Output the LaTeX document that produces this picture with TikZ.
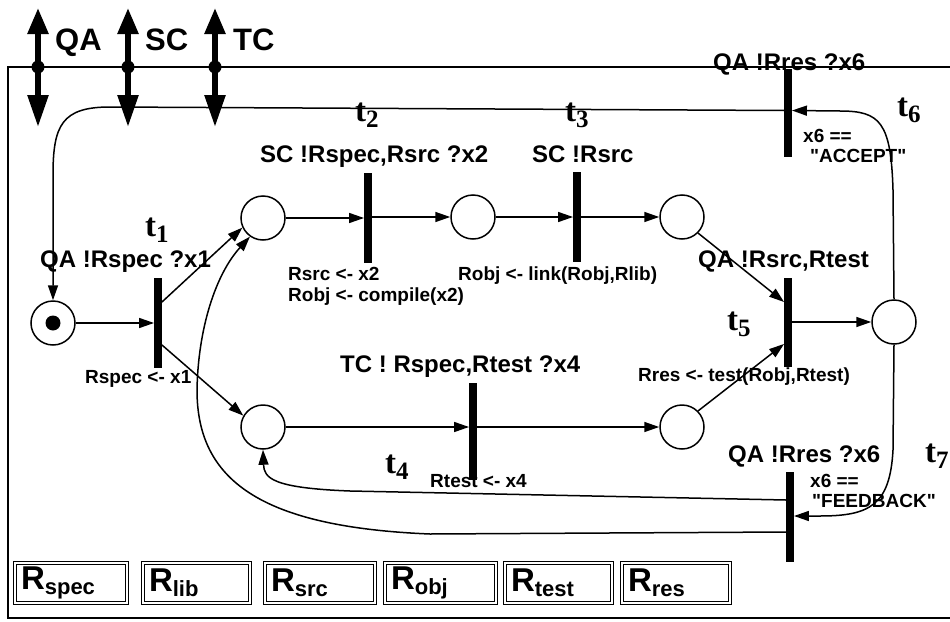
\documentclass[tikz,border=0pt]{standalone}
\usepackage{fontspec}
\setmainfont{Liberation Sans}[Ligatures=TeXOff]
\newfontfamily\serfont{Liberation Serif}
\usetikzlibrary{arrows.meta,calc}
\tikzset{
  place/.style={circle,draw,line width=1.5pt,minimum size=44pt,inner sep=0pt},
  trans/.style={rectangle,fill=black,minimum width=7.5pt,inner sep=0pt},
  arc/.style={line width=1.5pt,-{Triangle[length=15pt,width=10pt]}},
  biglab/.style={font=\bfseries\fontsize{24}{24}\selectfont,inner sep=0pt,anchor=base west},
  smalllab/.style={font=\bfseries\fontsize{19}{19}\selectfont,inner sep=0pt,anchor=base west},
  chanlab/.style={font=\bfseries\fontsize{31}{31}\selectfont,inner sep=0pt,anchor=base west},
  tlab/.style={inner sep=0pt,anchor=base west},
  chan/.style={line width=5.5pt,{Triangle[length=26pt,width=20pt]}-{Triangle[length=32pt,width=20pt]}},
  resbox/.style={draw,double,line width=1.4pt,double distance=1.6pt,minimum height=40pt,
    inner xsep=6pt,inner ysep=0pt,align=left},
}
\newcommand\tname[1]{{\serfont\bfseries\fontsize{33}{33}\selectfont t\raisebox{-6pt}{\fontsize{25}{25}\selectfont #1}}}
\newcommand\rname[1]{{\bfseries\fontsize{33}{33}\selectfont R\raisebox{-5pt}{\fontsize{22}{22}\selectfont #1}}}
\begin{document}
\begin{tikzpicture}[x=1pt,y=-1pt]
\useasboundingbox (0,0) rectangle (950,621);
\clip (0,0) rectangle (950,621);
\fill[white] (0,0) rectangle (950,621);

% frame
\draw[line width=2.5pt] (960,67) -- (8,67) -- (8,618) -- (960,618);

% channels
\coordinate (qa1) at (38,8);  \coordinate (qa2) at (38,127);
\coordinate (sc1) at (128,8); \coordinate (sc2) at (128,127);
\coordinate (tc1) at (215,8); \coordinate (tc2) at (215,127);
\draw[chan] (qa1) -- (qa2);
\draw[chan] (sc1) -- (sc2);
\draw[chan] (tc1) -- (tc2);
\fill (38,67) circle (6.5pt);
\fill (128,67) circle (6.5pt);
\fill (215,67) circle (6.5pt);
\node[chanlab] (lqa) at (55,50) {QA};
\node[chanlab] (lsc) at (145,50) {SC};
\node[chanlab] (ltc) at (233,50) {TC};

% places
\node[place] (p0) at (53,323) {};
\fill (p0) circle (7.5pt);
\node[place] (p1) at (263,218) {};
\node[place] (p2) at (473,217) {};
\node[place] (p3) at (682,217) {};
\node[place] (p4) at (263,427) {};
\node[place] (p5) at (682,427) {};
\node[place] (p6) at (894,322) {};

% transitions
\node[trans,minimum height=90pt] (t1) at (158,323) {};
\node[trans,minimum height=90pt] (t2) at (368,218) {};
\node[trans,minimum height=90pt] (t3) at (577,217) {};
\node[trans,minimum height=97pt] (t4) at (473,431) {};
\node[trans,minimum height=89pt] (t5) at (788,322) {};
\node[trans,minimum height=88pt] (t6) at (788,113) {};
\node[trans,minimum height=90pt] (t7) at (790,517) {};

% arcs
\draw[arc] (p0) -- (p0 -| t1.west);
\draw[arc] ($(t1.east)+(0,-21)$) -- (p1.205);
\draw[arc] ($(t1.east)+(0,22)$) -- (p4.150);
\draw[arc] (p1) -- (p1 -| t2.west);
\draw[arc] (t2.east |- p2) -- (p2);
\draw[arc] (p2) -- (p2 -| t3.west);
\draw[arc] (t3.east |- p3) -- (p3);
\draw[arc] (p4) -- (p4 -| t4.west);
\draw[arc] (t4.east |- p5) -- (p5);
\draw[arc] (p3.-45) -- ($(t5.west)+(0,-20)$);
\draw[arc] (p5.45) -- ($(t5.west)+(0,22)$);
\draw[arc] (t5.east |- p6) -- (p6);
\draw[arc] (p6.north) -- (893,190) .. controls (891,122) and (880,111) .. (840,111) -- ($(t6.east)+(0,-2.5)$);
\draw[arc] ($(t6.west)+(0,-2.5)$) -- (110,107) .. controls (62,107) and (53,125) .. (53,175) -- (p0.north);
\draw[arc] (p6.south) -- (893,450) .. controls (890,505) and (870,516) .. (820,516) -- ($(t7.east)+(0,-1)$);
\draw[arc] ($(t7.west)+(0,-17)$) -- (350,491) .. controls (272,488) and (264,478) .. (p4.south);
\draw[arc] ($(t7.west)+(0,15)$) -- (430,534) .. controls (260,527) and (197,480) .. (197,390)
   .. controls (198,330) and (215,275) .. (p1.235);

% transition labels
\node[tlab] (n1) at (145,236) {\tname{1}};
\node[tlab] (n2) at (355,121) {\tname{2}};
\node[tlab] (n3) at (565,121) {\tname{3}};
\node[tlab] (n4) at (385,473) {\tname{4}};
\node[tlab] (n5) at (727,330) {\tname{5}};
\node[tlab] (n6) at (897,116) {\tname{6}};
\node[tlab] (n7) at (925,462) {\tname{7}};

\node[biglab] (a1) at (40,267) {QA !Rspec ?x1};
\node[smalllab] (g1) at (85,383) {Rspec <- x1};
\node[biglab] (a2) at (260,162) {SC !Rspec,Rsrc ?x2};
\node[smalllab] (g2a) at (288,280) {Rsrc <- x2};
\node[smalllab] (g2b) at (288,301) {Robj <- compile(x2)};
\node[biglab] (a3) at (532,162) {SC !Rsrc};
\node[smalllab] (g3) at (458,280) {Robj <- link(Robj,Rlib)};
\node[biglab] (a6) at (713,70) {QA !Rres ?x6};
\node[smalllab] (g6a) at (803,142) {x6 ==};
\node[smalllab] (g6b) at (810,162) {"ACCEPT"};
\node[biglab] (a5) at (698,267) {QA !Rsrc,Rtest};
\node[smalllab] (g5) at (638,381) {Rres <- test(Robj,Rtest)};
\node[biglab] (a4) at (340,372) {TC ! Rspec,Rtest ?x4};
\node[smalllab] (g4) at (430,487) {Rtest <- x4};
\node[biglab] (a7) at (728,462) {QA !Rres ?x6};
\node[smalllab] (g7a) at (810,487) {x6 ==};
\node[smalllab] (g7b) at (812,507) {"FEEDBACK"};

% resources
\node[resbox,text width=100pt] (r1) at (71,583) {\rname{spec}};
\node[resbox,text width=95pt] (r2) at (196.5,583) {\rname{lib}};
\node[resbox,text width=98pt] (r3) at (320,583) {\rname{src}};
\node[resbox,text width=99pt] (r4) at (440.5,583) {\rname{obj}};
\node[resbox,text width=95pt] (r5) at (558.5,583) {\rname{test}};
\node[resbox,text width=96pt] (r6) at (676,583) {\rname{res}};
\end{tikzpicture}
\end{document}
